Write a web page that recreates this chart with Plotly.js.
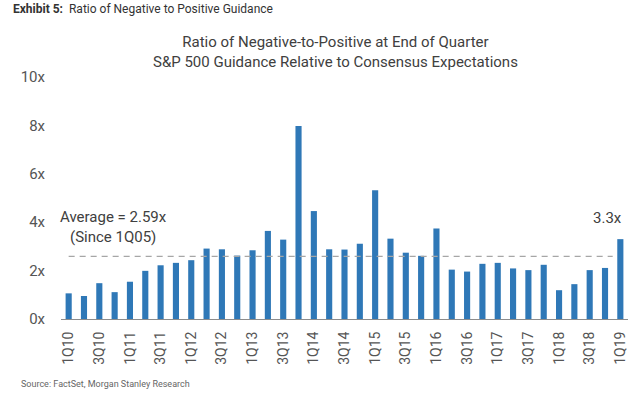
<!DOCTYPE html>
<html>
<head>
<meta charset="utf-8">
<script src="https://cdn.plot.ly/plotly-3.0.1.min.js"></script>
<style>
  html, body { margin: 0; padding: 0; background: #fff; }
  #chart { width: 640px; height: 395px; }
</style>
</head>
<body>
<div id="chart"></div>
<script>
const quarters = [
  "1Q10","2Q10","3Q10","4Q10",
  "1Q11","2Q11","3Q11","4Q11",
  "1Q12","2Q12","3Q12","4Q12",
  "1Q13","2Q13","3Q13","4Q13",
  "1Q14","2Q14","3Q14","4Q14",
  "1Q15","2Q15","3Q15","4Q15",
  "1Q16","2Q16","3Q16","4Q16",
  "1Q17","2Q17","3Q17","4Q17",
  "1Q18","2Q18","3Q18","4Q18",
  "1Q19"
];
const ratios = [
  1.06, 0.95, 1.48, 1.11,
  1.54, 1.99, 2.22, 2.32,
  2.43, 2.91, 2.88, 2.62,
  2.84, 3.64, 3.28, 7.98,
  4.46, 2.88, 2.87, 3.11,
  5.32, 3.32, 2.74, 2.61,
  3.74, 2.04, 1.96, 2.28,
  2.32, 2.09, 2.02, 2.24,
  1.19, 1.44, 2.02, 2.11,
  3.3
];
const tickLabels = quarters.filter((q, i) => i % 2 === 0);
const yTicks = [0, 2, 4, 6, 8, 10];
const yTickText = ["0x", "2x", "4x", "6x", "8x", "10x"];
const average = 2.59;
const lastLabel = "3.3x";

const FONT = "'Roboto', 'Liberation Sans', sans-serif";

const trace = {
  type: "bar",
  x: quarters,
  y: ratios,
  marker: { color: "#2f78b7" },
  hoverinfo: "x+y"
};

const layout = {
  width: 640,
  height: 395,
  margin: { l: 61, r: 12, t: 77, b: 76 },
  paper_bgcolor: "#ffffff",
  plot_bgcolor: "#ffffff",
  bargap: 0.6,
  showlegend: false,
  font: { family: FONT, color: "#555555" },
  xaxis: {
    type: "category",
    tickmode: "array",
    tickvals: tickLabels,
    ticktext: tickLabels,
    tickangle: -90,
    tickfont: { size: 14, color: "#555555", family: FONT },
    showgrid: false,
    zeroline: false,
    showline: true,
    linecolor: "#8c8c8c",
    linewidth: 1,
    ticks: "outside",
    ticklen: 6,
    tickcolor: "rgba(0,0,0,0)",
    range: [-0.5, quarters.length - 0.5]
  },
  yaxis: {
    range: [0, 10],
    tickmode: "array",
    tickvals: yTicks,
    ticktext: yTickText,
    tickfont: { size: 15, color: "#555555", family: FONT },
    showgrid: false,
    zeroline: false,
    showline: false,
    ticks: "outside",
    ticklen: 12,
    tickcolor: "rgba(0,0,0,0)"
  },
  shapes: [
    {
      type: "line",
      xref: "x",
      yref: "y",
      x0: 0,
      x1: quarters.length - 1.5,
      y0: average,
      y1: average,
      line: { color: "#a6a6a6", width: 1.3, dash: "6px,5px" }
    }
  ],
  annotations: [
    {
      xref: "paper", yref: "paper",
      x: -0.088, y: 1.0, xanchor: "left", yanchor: "bottom",
      yshift: 59,
      text: "<b>Exhibit 5:</b>  Ratio of Negative to Positive Guidance",
      showarrow: false,
      font: { size: 12, color: "#333333", family: FONT }
    },
    {
      xref: "paper", yref: "paper",
      x: 0.485, y: 1.0, xanchor: "center", yanchor: "bottom",
      yshift: 4,
      text: "Ratio of Negative-to-Positive at End of Quarter<br>S&P 500 Guidance Relative to Consensus Expectations",
      showarrow: false,
      align: "center",
      font: { size: 15, color: "#404040", family: FONT }
    },
    {
      xref: "paper", yref: "y",
      x: -0.005, y: 4.2, xanchor: "left", yanchor: "middle",
      text: "Average = " + average.toFixed(2) + "x",
      showarrow: false,
      font: { size: 15, color: "#404040", family: FONT }
    },
    {
      xref: "paper", yref: "y",
      x: 0.012, y: 3.4, xanchor: "left", yanchor: "middle",
      text: "(Since 1Q05)",
      showarrow: false,
      font: { size: 15, color: "#404040", family: FONT }
    },
    {
      xref: "x", yref: "y",
      x: quarters[quarters.length - 1], y: ratios[ratios.length - 1],
      xanchor: "right", yanchor: "bottom",
      xshift: 4, yshift: 10,
      text: lastLabel,
      showarrow: false,
      font: { size: 15, color: "#404040", family: FONT }
    },
    {
      xref: "paper", yref: "paper",
      x: -0.074, y: 0, xanchor: "left", yanchor: "top",
      yshift: -58,
      text: "Source: FactSet, Morgan Stanley Research",
      showarrow: false,
      font: { size: 9, color: "#666666", family: FONT }
    }
  ]
};

Plotly.newPlot("chart", [trace], layout, { displayModeBar: false, staticPlot: true });
</script>
</body>
</html>
